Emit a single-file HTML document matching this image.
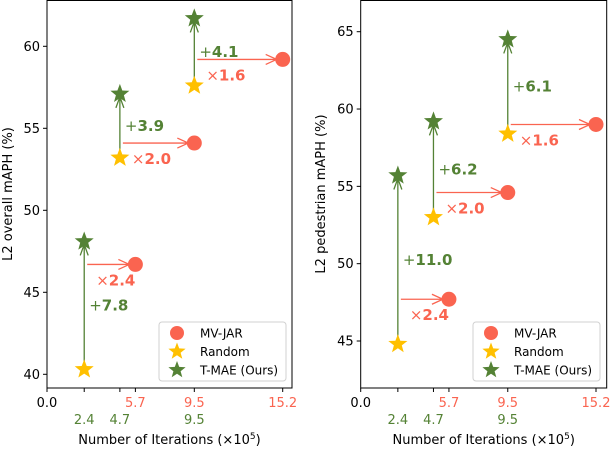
<!DOCTYPE html>
<html><head><meta charset="utf-8"><style>
body{margin:0;background:#fff;}
svg text{font-family:"DejaVu Sans","Liberation Sans",sans-serif;}
</style></head><body>
<svg id="fig" width="610" height="448" xmlns="http://www.w3.org/2000/svg"></svg>
<script>
const xTickVals=[0.0,2.4,4.7,5.7,9.5,15.2];
const itersMV=[5.7,9.5,15.2];
const itersT=[2.4,4.7,9.5];
const leftRandom=[40.3,53.2,57.6];
const leftTMAE=[48.1,57.1,61.7];
const leftMV=[46.7,54.1,59.2];
const leftGain=["7.8","3.9","4.1"];
const leftSpeed=["2.4","2.0","1.6"];
const leftYTicks=[40,45,50,55,60];
const rightRandom=[44.8,53.0,58.4];
const rightTMAE=[55.7,59.2,64.5];
const rightMV=[47.7,54.6,59.0];
const rightGain=["11.0","6.2","6.1"];
const rightSpeed=["2.4","2.0","1.6"];
const rightYTicks=[45,50,55,60,65];

const RED="#fa6450",YEL="#ffc000",GRN="#548235";
const svg=document.getElementById('fig');
const NS="http://www.w3.org/2000/svg";
function el(tag,attrs,parent){const e=document.createElementNS(NS,tag);for(const k in attrs)e.setAttribute(k,attrs[k]);(parent||svg).appendChild(e);return e;}
function starPts(cx,cy,R){const r=R*0.42;let p=[];for(let i=0;i<10;i++){const a=-Math.PI/2+i*Math.PI/5;const rr=i%2?r:R;p.push((cx+rr*Math.cos(a)).toFixed(1)+","+(cy+rr*Math.sin(a)).toFixed(1));}return p.join(" ");}

function panel(cfg){
  const g=el('g',{});
  
  
  const L=cfg.left,R=cfg.right,T=0,B=388;
  const sx=v=>L+(v-0)*(cfg.x152-L)/15.2;
  const sy=v=>cfg.yA_px+(v-cfg.yA)*(cfg.yB_px-cfg.yA_px)/(cfg.yB-cfg.yA);
  const frame=el('rect',{x:L,y:0.5,width:R-L,height:B-0.5,fill:'none',stroke:'#000','stroke-width':1},g);
  
  cfg.yTicks.forEach(v=>{
    el('line',{x1:L-4,x2:L,y1:sy(v),y2:sy(v),stroke:'#000'},g);
    const t=el('text',{x:L-7,y:sy(v)+4.5,'text-anchor':'end','font-size':13},g);t.textContent=v;
    
  });
  xTickVals.forEach(v=>{el('line',{x1:sx(v),x2:sx(v),y1:B,y2:B+4,stroke:'#000'},g);});
  const t0=el('text',{x:sx(0),y:407,'text-anchor':'middle','font-size':13},g);t0.textContent="0.0";
  
  itersMV.forEach(v=>{const t=el('text',{x:sx(v),y:407,'text-anchor':'middle','font-size':13,fill:RED},g);t.textContent=v.toFixed(1);
    });
  itersT.forEach(v=>{const t=el('text',{x:sx(v),y:424,'text-anchor':'middle','font-size':13,fill:GRN},g);t.textContent=v.toFixed(1);
    });
  const xl=el('text',{x:(L+R)/2,y:444,'text-anchor':'middle','font-size':13},g);
  xl.innerHTML='Number of Iterations (×10<tspan dy="-5" font-size="9">5</tspan><tspan dy="5">)</tspan>';
  
  const yl=el('text',{x:0,y:0,'text-anchor':'middle','font-size':13,transform:`translate(${cfg.ylabX},194) rotate(-90)`},g);
  yl.textContent=cfg.ylabel;
  for(let i=0;i<3;i++){
    const xt=sx(itersT[i]),xm=sx(itersMV[i]);
    const yr=sy(cfg.rand[i]),yt=sy(cfg.tmae[i]),ym=sy(cfg.mv[i]);
    const va=el('path',{d:`M${xt},${yr-6} L${xt},${yt+3} M${xt-4},${yt+14} L${xt},${yt+3} L${xt+4},${yt+14}`,stroke:GRN,'stroke-width':1.3,fill:'none'},g);
    
    const ha=el('path',{d:`M${xt+3},${ym} L${xm-6},${ym} M${xm-17},${ym-5} L${xm-6},${ym} L${xm-17},${ym+5}`,stroke:RED,'stroke-width':1.3,fill:'none'},g);
    
    const c=el('circle',{cx:xm,cy:ym,r:7.5,fill:RED},g);
    
    const s1=el('polygon',{points:starPts(xt,yr,10),fill:YEL},g);
    
    const s2=el('polygon',{points:starPts(xt,yt,10),fill:GRN},g);
    
    const gy=(yr+yt)/2+5;
    const gt=el('text',{x:xt+5,y:gy,'font-size':15,fill:GRN},g);
    gt.innerHTML='+<tspan font-weight="bold">'+cfg.gain[i]+'</tspan>';
    
    const st=el('text',{x:xt+12,y:ym+21,'font-size':15,fill:RED},g);
    st.innerHTML='×<tspan font-weight="bold">'+cfg.speed[i]+'</tspan>';
    
  }
  const lx=cfg.legX,ly=322;
  const lg=el('g',{},g);
  el('rect',{x:lx,y:ly,width:127,height:59,rx:3,fill:'#fff',stroke:'#ccc','stroke-width':1,opacity:0.9},lg);
  const names=['MV-JAR','Random','T-MAE (Ours)'];
  names.forEach((n,k)=>{
    const yy=ly+11+k*18.5;
    let m;
    if(k==0)m=el('circle',{cx:lx+18,cy:yy,r:7,fill:RED},lg);
    else m=el('polygon',{points:starPts(lx+18,yy,9),fill:k==1?YEL:GRN},lg);
    
    const t=el('text',{x:lx+41,y:yy+4.5,'font-size':12},lg);t.textContent=n;
    
  });
}
panel({name:'left-panel',left:47,right:292,x152:282.7,yA:60,yA_px:46.3,yB:40,yB_px:374.3,yTicks:leftYTicks,
  rand:leftRandom,tmae:leftTMAE,mv:leftMV,gain:leftGain,speed:leftSpeed,ylabel:'L2 overall mAPH (%)',ylabX:12,legX:159});
panel({name:'right-panel',left:360.7,right:606.7,x152:596,yA:65,yA_px:31.7,yB:45,yB_px:341,yTicks:rightYTicks,
  rand:rightRandom,tmae:rightTMAE,mv:rightMV,gain:rightGain,speed:rightSpeed,ylabel:'L2 pedestrian mAPH (%)',ylabX:325,legX:473});
</script>
</body></html>
